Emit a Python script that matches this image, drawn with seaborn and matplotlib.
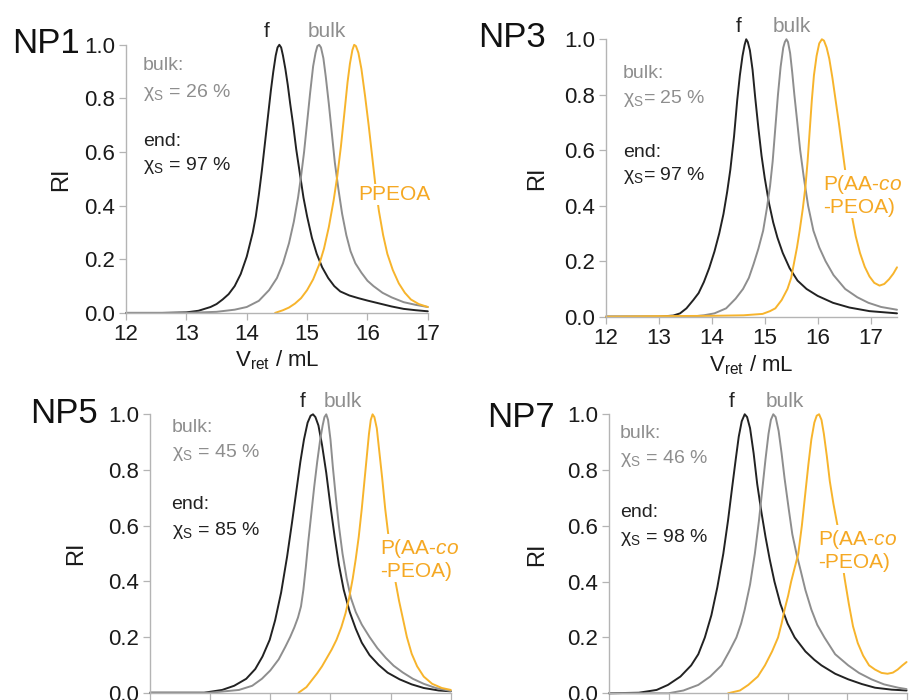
import pandas as pd
import matplotlib.pyplot as plt
import seaborn as sns

sns.set_style("white")
plt.rcParams["font.family"] = ["Liberation Sans", "DejaVu Sans"]
plt.rcParams["mathtext.fontset"] = "custom"
plt.rcParams["mathtext.rm"] = "Liberation Sans"
plt.rcParams["mathtext.it"] = "Liberation Sans:italic"

# -----------------------------
# Data (V_ret in mL, normalised RI)
# -----------------------------
np1_f_x = [12.0, 12.6, 13.0, 13.2, 13.4, 13.5, 13.6, 13.7, 13.8, 13.9, 14.0, 14.1, 14.15, 14.2, 14.25,
           14.3, 14.35, 14.4, 14.44, 14.48, 14.51, 14.54, 14.57, 14.6, 14.64, 14.68, 14.72, 14.77, 14.82,
           14.88, 14.94, 15.0, 15.08, 15.16, 15.25, 15.35, 15.45, 15.55, 15.7, 15.85, 16.0, 16.2, 16.4,
           16.6, 16.8, 17.0]
np1_f_y = [0.0, 0.0, 0.002, 0.008, 0.022, 0.033, 0.05, 0.07, 0.1, 0.145, 0.21, 0.3, 0.36, 0.44, 0.53,
           0.63, 0.73, 0.83, 0.9, 0.96, 0.99, 1.0, 0.99, 0.96, 0.91, 0.85, 0.78, 0.7, 0.61,
           0.52, 0.43, 0.36, 0.28, 0.22, 0.17, 0.13, 0.1, 0.08, 0.065, 0.055, 0.046, 0.035, 0.024,
           0.015, 0.01, 0.006]
np1_bulk_x = [12.0, 13.0, 13.5, 13.8, 14.0, 14.2, 14.37, 14.5, 14.6, 14.7, 14.78, 14.85, 14.9, 14.95, 15.0,
              15.05, 15.1, 15.14, 15.17, 15.2, 15.23, 15.27, 15.31, 15.36, 15.41, 15.46, 15.52, 15.58, 15.65,
              15.72, 15.8, 15.9, 16.0, 16.1, 16.25, 16.4, 16.6, 16.8, 17.0]
np1_bulk_y = [0.0, 0.0, 0.004, 0.012, 0.022, 0.045, 0.085, 0.13, 0.185, 0.26, 0.34, 0.43, 0.51, 0.6, 0.71,
              0.82, 0.92, 0.97, 0.995, 1.0, 0.99, 0.95, 0.88, 0.78, 0.67, 0.56, 0.46, 0.37, 0.29,
              0.23, 0.185, 0.15, 0.12, 0.1, 0.075, 0.058, 0.04, 0.03, 0.022]
np1_pol_x = [14.47, 14.6, 14.7, 14.8, 14.9, 15.0, 15.1, 15.2, 15.28, 15.36, 15.44, 15.5, 15.56, 15.62, 15.67,
             15.71, 15.75, 15.78, 15.81, 15.85, 15.9, 15.96, 16.02, 16.08, 16.13, 16.19, 16.26, 16.33, 16.42,
             16.52, 16.62, 16.72, 16.85, 17.0]
np1_pol_y = [0.0, 0.01, 0.02, 0.035, 0.055, 0.085, 0.125, 0.18, 0.24, 0.32, 0.42, 0.51, 0.62, 0.75, 0.86,
             0.93, 0.98, 1.0, 0.995, 0.97, 0.91, 0.81, 0.7, 0.58, 0.48, 0.38, 0.29, 0.22, 0.16,
             0.11, 0.075, 0.05, 0.033, 0.022]

np3_f_x = [12.0, 13.0, 13.27, 13.4, 13.52, 13.65, 13.75, 13.85, 13.95, 14.05, 14.14, 14.22, 14.29, 14.35, 14.42,
           14.48, 14.53, 14.58, 14.62, 14.65, 14.68, 14.72, 14.77, 14.82, 14.88, 14.94, 15.0, 15.08, 15.16,
           15.24, 15.34, 15.47, 15.62, 15.79, 16.0, 16.29, 16.6, 16.98, 17.5]
np3_f_y = [0.0, 0.0, 0.004, 0.012, 0.03, 0.06, 0.085, 0.125, 0.175, 0.235, 0.3, 0.37, 0.45, 0.53, 0.65,
           0.78, 0.87, 0.94, 0.98, 1.0, 0.99, 0.96, 0.89, 0.79, 0.68, 0.58, 0.5, 0.41, 0.34,
           0.285, 0.23, 0.175, 0.13, 0.1, 0.075, 0.05, 0.033, 0.02, 0.012]
np3_bulk_x = [12.0, 13.6, 13.85, 14.05, 14.27, 14.45, 14.59, 14.7, 14.79, 14.88, 14.97, 15.04, 15.1, 15.15, 15.2,
              15.25, 15.3, 15.35, 15.38, 15.41, 15.44, 15.48, 15.52, 15.56, 15.61, 15.67, 15.74, 15.82, 15.92,
              16.03, 16.15, 16.3, 16.52, 16.75, 16.96, 17.2, 17.5]
np3_bulk_y = [0.0, 0.0, 0.005, 0.012, 0.03, 0.065, 0.1, 0.14, 0.19, 0.245, 0.31, 0.39, 0.47, 0.56, 0.68,
              0.8, 0.9, 0.97, 0.99, 1.0, 0.99, 0.95, 0.88, 0.8, 0.71, 0.6, 0.5, 0.4, 0.31,
              0.25, 0.2, 0.15, 0.1, 0.07, 0.05, 0.035, 0.025]
np3_pol_x = [12.0, 13.0, 14.0, 14.6, 14.96, 15.1, 15.2, 15.32, 15.43, 15.5, 15.55, 15.61, 15.66, 15.72, 15.77,
             15.81, 15.85, 15.89, 15.93, 15.98, 16.03, 16.08, 16.12, 16.17, 16.22, 16.28, 16.34, 16.4, 16.47,
             16.54, 16.6, 16.66, 16.72, 16.8, 16.89, 16.98, 17.07, 17.17, 17.26, 17.35, 17.43, 17.5]
np3_pol_y = [0.0, 0.002, 0.003, 0.005, 0.01, 0.02, 0.03, 0.06, 0.1, 0.14, 0.19, 0.25, 0.31, 0.39, 0.47,
             0.56, 0.67, 0.78, 0.87, 0.94, 0.985, 1.0, 0.995, 0.97, 0.93, 0.86, 0.78, 0.7, 0.6,
             0.5, 0.42, 0.35, 0.29, 0.23, 0.18, 0.145, 0.122, 0.112, 0.118, 0.135, 0.155, 0.178]

np5_f_x = [12.0, 12.9, 13.2, 13.4, 13.6, 13.75, 13.87, 13.99, 14.08, 14.18, 14.28, 14.36, 14.43, 14.5, 14.56,
           14.62, 14.67, 14.71, 14.75, 14.8, 14.86, 14.93, 15.0, 15.07, 15.14, 15.22, 15.32, 15.42, 15.52,
           15.65, 15.8, 15.95, 16.15, 16.35, 16.55, 16.8, 17.0]
np5_f_y = [0.0, 0.0, 0.01, 0.025, 0.05, 0.085, 0.13, 0.19, 0.26, 0.36, 0.49, 0.61, 0.72, 0.83, 0.91,
           0.97, 0.995, 1.0, 0.99, 0.96, 0.89, 0.79, 0.67, 0.56, 0.46, 0.37, 0.29, 0.23, 0.18,
           0.135, 0.1, 0.072, 0.048, 0.03, 0.017, 0.008, 0.005]
np5_bulk_x = [12.0, 13.0, 13.48, 13.7, 13.86, 14.0, 14.14, 14.25, 14.33, 14.4, 14.46, 14.51, 14.55, 14.59, 14.63,
              14.68, 14.73, 14.78, 14.83, 14.87, 14.9, 14.93, 14.96, 15.0, 15.04, 15.09, 15.14, 15.2, 15.27,
              15.34, 15.42, 15.52, 15.65, 15.78, 15.92, 16.05, 16.2, 16.37, 16.55, 16.75, 17.0]
np5_bulk_y = [0.0, 0.0, 0.01, 0.025, 0.05, 0.08, 0.12, 0.165, 0.2, 0.235, 0.27, 0.31, 0.37, 0.45, 0.54,
              0.64, 0.74, 0.83, 0.91, 0.96, 0.99, 1.0, 0.98, 0.91, 0.81, 0.7, 0.6, 0.5, 0.41,
              0.34, 0.29, 0.245, 0.2, 0.16, 0.125, 0.097, 0.073, 0.05, 0.032, 0.017, 0.006]
np5_pol_x = [14.47, 14.6, 14.69, 14.78, 14.86, 14.94, 15.02, 15.1, 15.18, 15.25, 15.31, 15.37, 15.42, 15.47, 15.52,
             15.56, 15.6, 15.64, 15.67, 15.7, 15.73, 15.77, 15.81, 15.86, 15.91, 15.96, 16.02, 16.08, 16.14,
             16.2, 16.27, 16.35, 16.44, 16.55, 16.69, 16.85, 17.0]
np5_pol_y = [0.0, 0.02, 0.045, 0.07, 0.095, 0.125, 0.155, 0.19, 0.235, 0.285, 0.34, 0.41, 0.48, 0.56, 0.66,
             0.75, 0.84, 0.93, 0.98, 1.0, 0.99, 0.95, 0.87, 0.77, 0.66, 0.57, 0.48, 0.4, 0.33,
             0.27, 0.2, 0.14, 0.095, 0.058, 0.032, 0.017, 0.01]

np7_f_x = [12.0, 12.5, 12.8, 12.99, 13.2, 13.38, 13.5, 13.61, 13.72, 13.82, 13.92, 14.0, 14.07, 14.13, 14.18,
           14.23, 14.28, 14.32, 14.37, 14.43, 14.49, 14.56, 14.63, 14.7, 14.78, 14.88, 15.0, 15.12, 15.3,
           15.45, 15.57, 15.8, 16.02, 16.25, 16.47, 16.75, 17.0]
np7_f_y = [0.0, 0.002, 0.012, 0.03, 0.06, 0.1, 0.14, 0.2, 0.28, 0.38, 0.5, 0.62, 0.74, 0.84, 0.92,
           0.975, 1.0, 0.99, 0.95, 0.86, 0.75, 0.65, 0.56, 0.48, 0.4, 0.32, 0.25, 0.2, 0.15,
           0.12, 0.1, 0.07, 0.05, 0.033, 0.02, 0.013, 0.01]
np7_bulk_x = [12.0, 13.0, 13.25, 13.5, 13.7, 13.89, 14.02, 14.14, 14.22, 14.28, 14.37, 14.45, 14.52, 14.58, 14.63,
              14.68, 14.72, 14.76, 14.8, 14.85, 14.9, 14.95, 15.02, 15.08, 15.15, 15.22, 15.3, 15.4, 15.5,
              15.62, 15.8, 16.02, 16.2, 16.41, 16.62, 16.86, 17.0]
np7_bulk_y = [0.0, 0.0, 0.01, 0.03, 0.06, 0.1, 0.15, 0.2, 0.25, 0.3, 0.39, 0.5, 0.62, 0.74, 0.84,
              0.93, 0.98, 1.0, 0.99, 0.94, 0.86, 0.77, 0.66, 0.57, 0.5, 0.44, 0.37, 0.3, 0.245,
              0.2, 0.14, 0.1, 0.073, 0.05, 0.032, 0.02, 0.015]
np7_pol_x = [14.0, 14.2, 14.34, 14.5, 14.62, 14.74, 14.84, 14.9, 14.95, 15.01, 15.06, 15.12, 15.18, 15.24, 15.3,
             15.35, 15.4, 15.45, 15.49, 15.53, 15.57, 15.61, 15.66, 15.71, 15.77, 15.84, 15.9, 15.96, 16.03,
             16.1, 16.18, 16.27, 16.37, 16.47, 16.58, 16.68, 16.77, 16.85, 16.93, 17.0]
np7_pol_y = [0.0, 0.01, 0.03, 0.06, 0.1, 0.15, 0.2, 0.25, 0.3, 0.35, 0.4, 0.45, 0.5, 0.6, 0.72,
             0.82, 0.91, 0.97, 0.995, 1.0, 0.98, 0.93, 0.85, 0.76, 0.68, 0.6, 0.5, 0.41, 0.32,
             0.24, 0.18, 0.135, 0.1, 0.085, 0.073, 0.07, 0.074, 0.085, 0.1, 0.112]

bulk_conv = ["26", "25", "45", "46"]
end_conv = ["97", "97", "85", "98"]

BLACK = "#222222"
GRAY = "#8e8e8e"
ORANGE = "#f7b42c"
ORANGE_TXT = "#f5a823"
AXIS = "#b4b4b4"

fig = plt.figure(figsize=(9.2, 7.0), dpi=100)

# axes rectangles in figure fractions
panels = [
    dict(name="NP1", rect=[0.137, 0.553, 0.328, 0.383], xmax=17.0,
         f=(np1_f_x, np1_f_y), bulk=(np1_bulk_x, np1_bulk_y), pol=(np1_pol_x, np1_pol_y),
         name_pos=(0.013, 0.924), f_lab=(14.33, 1.03), bulk_lab=(15.33, 1.03),
         pol_lab="PPEOA", pol_pos=(16.44, 0.42), pol_ha="center",
         txt_x=12.28, txt_y=[0.907, 0.807, 0.623, 0.534], sep=" = ", xlab=True, ylab=-0.179),
    dict(name="NP3", rect=[0.6587, 0.5476, 0.3163, 0.3963], xmax=17.5,
         f=(np3_f_x, np3_f_y), bulk=(np3_bulk_x, np3_bulk_y), pol=(np3_pol_x, np3_pol_y),
         name_pos=(0.52, 0.933), f_lab=(14.5, 1.027), bulk_lab=(15.52, 1.027),
         pol_lab="P(AA-$\\mathit{co}$\n-PEOA)", pol_pos=(16.11, 0.374), pol_ha="left",
         txt_x=12.32, txt_y=[0.859, 0.769, 0.577, 0.493], sep="= ", xlab=True, ylab=-0.199),
    dict(name="NP5", rect=[0.163, 0.0104, 0.327, 0.3977], xmax=17.0,
         f=(np5_f_x, np5_f_y), bulk=(np5_bulk_x, np5_bulk_y), pol=(np5_pol_x, np5_pol_y),
         name_pos=(0.0326, 0.396), f_lab=(14.54, 1.028), bulk_lab=(15.21, 1.028),
         pol_lab="P(AA-$\\mathit{co}$\n-PEOA)", pol_pos=(15.82, 0.415), pol_ha="left",
         txt_x=12.36, txt_y=[0.938, 0.846, 0.659, 0.567], sep=" = ", xlab=False, ylab=-0.209),
    dict(name="NP7", rect=[0.662, 0.0096, 0.3234, 0.3986], xmax=17.0,
         f=(np7_f_x, np7_f_y), bulk=(np7_bulk_x, np7_bulk_y), pol=(np7_pol_x, np7_pol_y),
         name_pos=(0.529, 0.39), f_lab=(14.06, 1.027), bulk_lab=(14.96, 1.027),
         pol_lab="P(AA-$\\mathit{co}$\n-PEOA)", pol_pos=(15.52, 0.448), pol_ha="left",
         txt_x=12.18, txt_y=[0.914, 0.824, 0.633, 0.543], sep=" = ", xlab=False, ylab=-0.205),
]

for i, p in enumerate(panels):
    ax = fig.add_axes(p["rect"])

    frames = []
    for key, label in [("f", "f"), ("bulk", "bulk"), ("pol", "polymer")]:
        xs, ys = p[key]
        frames.append(pd.DataFrame({"V": xs, "RI": ys, "curve": label}))
    df = pd.concat(frames, ignore_index=True)

    sns.lineplot(data=df, x="V", y="RI", hue="curve",
                 palette={"f": BLACK, "bulk": GRAY, "polymer": ORANGE},
                 sort=False, estimator=None, legend=False, ax=ax,
                 linewidth=1.4, clip_on=False)

    ax.set_xlim(12, p["xmax"])
    ax.set_ylim(0, 1.0)
    ax.set_xticks([12, 13, 14, 15, 16, 17])
    ax.set_yticks([0.0, 0.2, 0.4, 0.6, 0.8, 1.0])
    ax.set_yticklabels(["0.0", "0.2", "0.4", "0.6", "0.8", "1.0"])
    sns.despine(ax=ax)
    for side in ["left", "bottom"]:
        ax.spines[side].set_color(AXIS)
        ax.spines[side].set_linewidth(1.0)
    ax.tick_params(axis="both", direction="out", length=5, width=0.9, color=AXIS,
                   labelsize=16, labelcolor="#1a1a1a", pad=3, bottom=True, left=True)

    ax.set_ylabel("RI", fontsize=17, color="#1a1a1a")
    ax.yaxis.set_label_coords(p["ylab"], 0.5)
    if p["xlab"]:
        ax.set_xlabel("V$_\\mathrm{ret}$ / mL", fontsize=16, color="#1a1a1a", va="top")
        ax.xaxis.set_label_coords(0.5, -0.132)
    else:
        # lower row: the x tick labels fall below the picture edge
        ax.set_xlabel("")
        ax.tick_params(axis="x", labelbottom=False)

    # peak labels
    ax.text(*p["f_lab"], "f", fontsize=15, color=BLACK, ha="center", va="baseline")
    ax.text(*p["bulk_lab"], "bulk", fontsize=15, color=GRAY, ha="center", va="baseline")
    ax.text(*p["pol_pos"], p["pol_lab"], fontsize=15, color=ORANGE_TXT, ha=p["pol_ha"],
            va="baseline", linespacing=1.15,
            bbox=dict(boxstyle="square,pad=0.05", fc="white", ec="none"), zorder=5)

    # conversion annotations
    ty = p["txt_y"]
    ax.text(p["txt_x"], ty[0], "bulk:", fontsize=14, color=GRAY, va="baseline")
    ax.text(p["txt_x"], ty[1], "χ$_\\mathrm{S}$" + p["sep"] + bulk_conv[i] + " %",
            fontsize=14, color=GRAY, va="baseline")
    ax.text(p["txt_x"], ty[2], "end:", fontsize=14, color=BLACK, va="baseline")
    ax.text(p["txt_x"], ty[3], "χ$_\\mathrm{S}$" + p["sep"] + end_conv[i] + " %",
            fontsize=14, color=BLACK, va="baseline")

    fig.text(*p["name_pos"], p["name"], fontsize=25, color="#111111", va="baseline")

plt.savefig("out.png", dpi=100)
plt.close()
print("Saved -> out.png")
